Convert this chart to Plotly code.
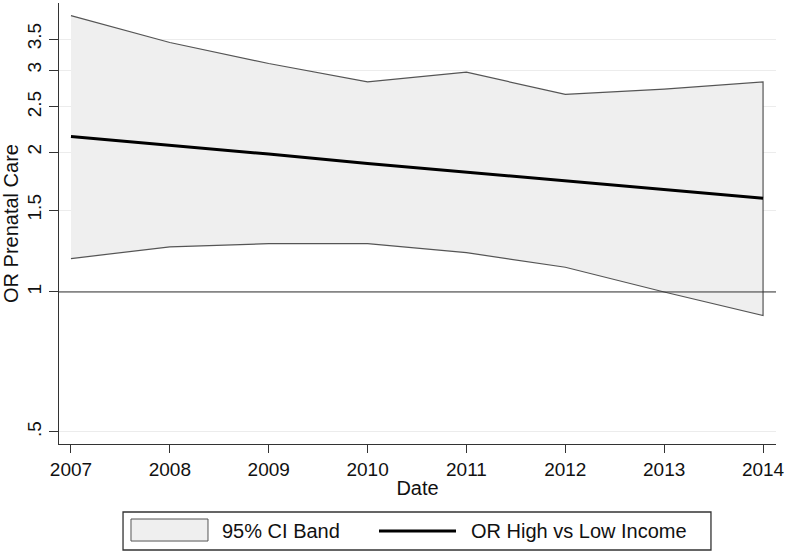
import plotly.graph_objects as go

# values (odds ratios, log scale)
years = [2007, 2008, 2009, 2010, 2011, 2012, 2013, 2014]
or_high_vs_low = [2.16, 2.07, 1.98, 1.89, 1.81, 1.73, 1.66, 1.59]
ci_upper = [3.93, 3.44, 3.10, 2.83, 2.97, 2.66, 2.73, 2.83]
ci_lower = [1.18, 1.25, 1.27, 1.27, 1.215, 1.13, 1.00, 0.89]

y_ticks = [0.5, 1, 1.5, 2, 2.5, 3, 3.5]
y_ticklabels = [".5", "1", "1.5", "2", "2.5", "3", "3.5"]

font_family = "Liberation Sans, Arial, Helvetica, sans-serif"
band_fill = "#efefef"
band_line = "#555555"
axis_col = "#333333"

fig = go.Figure()

# CI band as one closed polygon (gives the vertical edges at both ends)
fig.add_trace(go.Scatter(
    x=years + years[::-1],
    y=ci_upper + ci_lower[::-1],
    fill="toself", fillcolor=band_fill,
    mode="lines", line=dict(color=band_line, width=1.2),
    name="95% CI Band", hoverinfo="skip"))

# point estimate
fig.add_trace(go.Scatter(
    x=years, y=or_high_vs_low, mode="lines",
    line=dict(color="black", width=3),
    name="OR High vs Low Income"))

# reference line at OR = 1
fig.add_shape(type="line", xref="paper", yref="y", x0=0, x1=1, y0=1, y1=1,
              line=dict(color=axis_col, width=1))

# legend drawn by hand (Stata style box at the bottom)
fig.add_shape(type="rect", xref="paper", yref="paper",
              x0=0.0893, x1=0.9093, y0=-0.2404, y1=-0.1542,
              line=dict(color=axis_col, width=1.3), fillcolor="white")
fig.add_shape(type="rect", xref="paper", yref="paper",
              x0=0.1004, x1=0.2078, y0=-0.2200, y1=-0.1701,
              line=dict(color=band_line, width=1), fillcolor=band_fill)
fig.add_shape(type="line", xref="paper", yref="paper",
              x0=0.4463, x1=0.5537, y0=-0.1973, y1=-0.1973,
              line=dict(color="black", width=3))
fig.add_annotation(text="95% CI Band", xref="paper", yref="paper",
                   x=0.2245, y=-0.1973, xanchor="left", yanchor="middle",
                   showarrow=False, font=dict(size=20, color="#111"))
fig.add_annotation(text="OR High vs Low Income", xref="paper", yref="paper",
                   x=0.5718, y=-0.1973, xanchor="left", yanchor="middle",
                   showarrow=False, font=dict(size=20, color="#111"))

fig.update_layout(
    width=788, height=553,
    margin=dict(l=59, r=12, t=3, b=109),
    paper_bgcolor="white", plot_bgcolor="white",
    font=dict(family=font_family, size=19, color="#111"),
    showlegend=False,
    xaxis=dict(
        range=[2006.879, 2014.131], automargin=False,
        tickvals=years, ticks="outside", ticklen=8, tickcolor=axis_col,
        showline=True, linecolor=axis_col, linewidth=1.3,
        showgrid=False, zeroline=False,
        title=dict(text="Date", standoff=2, font=dict(size=20)),
    ),
    yaxis=dict(
        type="log", range=[-0.327, 0.6215], automargin=False,
        tickvals=y_ticks, ticktext=y_ticklabels, tickangle=-90,
        ticks="outside", ticklen=9, tickcolor=axis_col,
        showline=True, linecolor=axis_col, linewidth=1.3,
        showgrid=True, gridcolor="#ececec", gridwidth=1,
        zeroline=False,
        title=dict(text="OR Prenatal Care", standoff=0, font=dict(size=20)),
    ),
)

# drop the browser's default body margin so the figure fills the window
fig.write_html("out.html", config={"displayModeBar": False},
               post_script="document.body.style.margin='0';")
